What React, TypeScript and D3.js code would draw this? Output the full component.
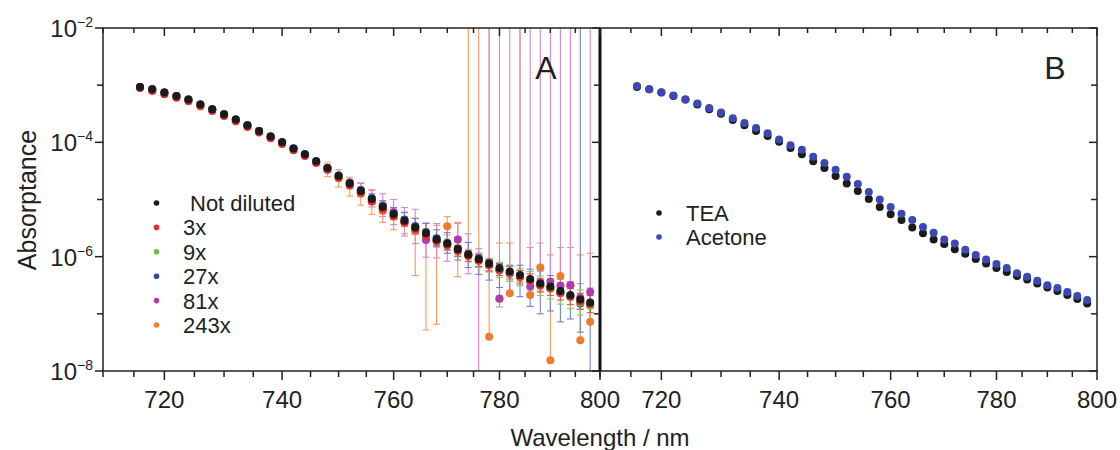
import React from 'react';
import * as d3 from 'd3';

// Wavelength (nm) of each measured point
const wavelengths = [716, 718, 720, 722, 724, 726, 728, 730, 732, 734, 736, 738, 740, 742, 744, 746, 748, 750, 752, 754, 756, 758, 760, 762, 764, 766, 768, 770, 772, 774, 776, 778, 780, 782, 784, 786, 788, 790, 792, 794, 796, 798];

// Panel A: log10(absorptance) for each dilution
const notDilutedLog = [-3.03, -3.07, -3.13, -3.19, -3.25, -3.34, -3.42, -3.51, -3.60, -3.70, -3.80, -3.90, -4.00, -4.11, -4.21, -4.33, -4.45, -4.59, -4.72, -4.85, -4.99, -5.13, -5.26, -5.37, -5.49, -5.59, -5.70, -5.77, -5.87, -5.96, -6.04, -6.12, -6.20, -6.26, -6.32, -6.39, -6.47, -6.52, -6.60, -6.67, -6.75, -6.80];
const dil3Log = [-3.05, -3.10, -3.16, -3.22, -3.28, -3.37, -3.45, -3.54, -3.63, -3.73, -3.83, -3.93, -4.03, -4.14, -4.24, -4.36, -4.48, -4.62, -4.75, -4.88, -5.03, -5.17, -5.29, -5.40, -5.52, -5.63, -5.73, -5.80, -5.90, -5.99, -6.07, -6.15, -6.23, -6.28, -6.35, -6.42, -6.50, -6.55, -6.63, -6.70, -6.78, -6.83];
const dil9Log = [-3.04, -3.08, -3.14, -3.20, -3.26, -3.35, -3.43, -3.52, -3.61, -3.71, -3.81, -3.91, -4.01, -4.12, -4.22, -4.34, -4.46, -4.60, -4.73, -4.87, -5.01, -5.15, -5.28, -5.38, -5.50, -5.60, -5.72, -5.79, -5.90, -5.98, -6.07, -6.15, -6.23, -6.29, -6.36, -6.42, -6.51, -6.56, -6.64, -6.71, -6.80, -6.86];
const dil27Log = [-3.03, -3.07, -3.13, -3.19, -3.25, -3.34, -3.42, -3.51, -3.60, -3.70, -3.80, -3.90, -4.00, -4.11, -4.21, -4.33, -4.45, -4.58, -4.71, -4.84, -4.98, -5.12, -5.24, -5.35, -5.47, -5.57, -5.68, -5.76, -5.86, -5.97, -6.06, -6.15, -6.24, -6.30, -6.35, -6.42, -6.50, -6.55, -6.64, -6.69, -6.82, -6.85];
const dil81Log = [-3.03, -3.07, -3.13, -3.19, -3.25, -3.34, -3.42, -3.51, -3.60, -3.70, -3.80, -3.90, -4.00, -4.11, -4.21, -4.33, -4.45, -4.58, -4.70, -4.83, -4.98, -5.10, -5.22, -5.39, -5.47, -5.71, -5.72, -5.78, -5.70, -5.95, -6.02, -6.10, -6.73, -6.28, -6.34, -6.52, -6.45, -6.44, -6.51, -6.50, -6.72, -6.62];
const dil243Log = [-3.04, -3.08, -3.14, -3.20, -3.26, -3.35, -3.43, -3.52, -3.61, -3.71, -3.81, -3.91, -4.01, -4.12, -4.22, -4.35, -4.48, -4.63, -4.76, -4.90, -5.04, -5.20, -5.30, -5.42, -5.55, -5.62, -5.72, -5.47, -5.85, -5.96, -6.05, -7.40, -6.74, -6.64, -6.33, -6.67, -6.19, -7.81, -6.34, -6.50, -7.46, -7.14];

// Error bars: extent above / below the point, in decades (null = none drawn, 9 = off the chart)
const N = null;
const dil3Up = [N, N, N, N, N, N, N, N, N, N, N, N, N, N, N, N, N, N, N, N, 0.05, 0.05, 0.06, 0.06, 0.07, 0.07, 0.08, 0.08, 0.09, 0.09, 0.1, 0.1, 0.1, 0.11, 0.11, 0.12, 0.12, 0.13, 0.13, 0.14, 0.14, 0.15];
const dil3Down = [N, N, N, N, N, N, N, N, N, N, N, N, N, N, N, N, N, N, N, N, 0.05, 0.05, 0.06, 0.06, 0.07, 0.07, 0.08, 0.08, 0.09, 0.09, 0.1, 0.1, 0.1, 0.11, 0.11, 0.12, 0.12, 0.13, 0.13, 0.14, 0.14, 0.15];
const dil9Up = [N, N, N, N, N, N, N, N, N, N, N, N, N, N, N, N, N, N, N, N, N, N, 0.06, 0.07, 0.08, 0.08, 0.09, 0.1, 0.1, 0.11, 0.12, 0.12, 0.13, 0.14, 0.15, 0.16, 0.17, 0.18, 0.19, 0.2, 0.22, 0.24];
const dil9Down = [N, N, N, N, N, N, N, N, N, N, N, N, N, N, N, N, N, N, N, N, N, N, 0.06, 0.07, 0.08, 0.08, 0.09, 0.1, 0.1, 0.11, 0.12, 0.12, 0.13, 0.14, 0.15, 0.16, 0.17, 0.18, 0.19, 0.2, 0.22, 0.3];
const dil27Up = [N, N, N, N, N, N, N, N, N, N, N, N, N, N, N, N, N, N, N, N, 0.08, 0.1, 0.1, 0.12, 0.14, 0.15, 0.15, 0.18, 0.2, 0.22, 0.12, 0.06, 0.12, 0.15, 0.2, 0.2, 0.25, 0.22, 0.25, 0.25, 9, 0.3];
const dil27Down = [N, N, N, N, N, N, N, N, N, N, N, N, N, N, N, N, N, N, N, N, 0.08, 0.1, 0.1, 0.12, 0.14, 0.15, 0.15, 0.18, 0.2, 0.22, 0.25, 0.26, 0.3, 0.35, 0.35, 0.45, 0.5, 0.4, 0.5, 0.4, 0.5, 9];
const dil81Up = [N, N, N, N, N, N, N, N, N, N, N, N, N, N, N, N, N, N, N, 0.12, 0.15, 0.2, 0.22, 0.25, 0.3, 0.3, 0.3, 0.3, 0.3, 0.35, 0.16, 9, 9, 9, 9, 9, 9, 9, 9, 9, 0.25, 9];
const dil81Down = [N, N, N, N, N, N, N, N, N, N, N, N, N, N, N, N, N, N, N, 0.12, 0.15, 0.2, 0.22, 0.25, 0.3, 0.3, 0.3, 0.3, 0.3, 0.35, 9, 0.15, 0.15, 0.15, 0.15, 0.15, 0.15, 0.15, 0.15, 0.15, 0.2, 0.15];
const dil243Up = [N, N, N, N, N, N, N, N, N, N, N, N, N, N, N, N, 0.12, 0.15, 0.15, 0.18, 0.2, 0.1, 0.12, 0.2, 0.22, 0.2, 0.27, 0.17, 0.43, 9, 9, 9, 0.98, 0.88, 9, 0.83, 0.43, 1.84, 0.5, 0.66, 1.49, 1.2];
const dil243Down = [N, N, N, N, N, N, N, N, N, N, N, N, N, N, N, N, 0.12, 0.15, 0.18, 0.2, 0.22, 0.2, 0.23, 0.18, 0.78, 1.66, 1.46, 0.15, 0.5, 0.05, 0.05, N, N, N, 0.1, N, 0.2, N, 0.2, 0.2, N, N];

// Panel B: log10(absorptance)
const teaLog = [-3.03, -3.07, -3.13, -3.19, -3.25, -3.34, -3.42, -3.50, -3.61, -3.70, -3.80, -3.89, -3.99, -4.10, -4.21, -4.33, -4.45, -4.59, -4.72, -4.85, -4.99, -5.13, -5.26, -5.36, -5.49, -5.59, -5.70, -5.78, -5.87, -5.95, -6.04, -6.12, -6.20, -6.27, -6.34, -6.40, -6.47, -6.54, -6.60, -6.67, -6.74, -6.82];
const acetoneLog = [-3.015, -3.07, -3.125, -3.18, -3.25, -3.32, -3.40, -3.48, -3.58, -3.66, -3.75, -3.84, -3.95, -4.05, -4.13, -4.25, -4.36, -4.48, -4.60, -4.73, -4.87, -5.00, -5.13, -5.25, -5.36, -5.48, -5.58, -5.70, -5.77, -5.88, -5.97, -6.05, -6.13, -6.20, -6.29, -6.35, -6.42, -6.50, -6.55, -6.62, -6.69, -6.76];

const xTickLabels = [720, 740, 760, 780, 800];
const yTickExponents = [-2, -4, -6, -8];

const FONT = '"Liberation Sans", Arial, Helvetica, sans-serif';
const INK = '#222';

type Series = { name: string; color: string; bar: string; v: number[]; up: (number | null)[]; dn: (number | null)[] };

const seriesA: Series[] = [
  { name: 'Not diluted', color: '#1b1b1b', bar: '#1b1b1b', v: notDilutedLog, up: [], dn: [] },
  { name: '3x', color: '#ec2b2f', bar: '#ec4a4e', v: dil3Log, up: dil3Up, dn: dil3Down },
  { name: '9x', color: '#62c23e', bar: '#7fd060', v: dil9Log, up: dil9Up, dn: dil9Down },
  { name: '27x', color: '#3547a8', bar: '#6f7fd0', v: dil27Log, up: dil27Up, dn: dil27Down },
  { name: '81x', color: '#b03aae', bar: '#d487d2', v: dil81Log, up: dil81Up, dn: dil81Down },
  { name: '243x', color: '#f07a2e', bar: '#f59a5c', v: dil243Log, up: dil243Up, dn: dil243Down },
];

export default function App() {
  const top = 28, bottom = 371;
  const xA = d3.scaleLinear().domain([1 / 710, 1 / 800]).range([103, 600]);
  const xB = d3.scaleLinear().domain([1 / 710, 1 / 800]).range([600, 1097]);
  const y = d3.scaleLog().domain([1e-8, 1e-2]).range([bottom, top]);
  const ly = (v: number) => y(Math.pow(10, v));

  const minorX = d3.range(710, 801, 5);
  const decades = d3.range(-8, -1, 1);
  const R = 4;

  const drawXTicks = (sx: d3.ScaleLinear<number, number>, key: string) =>
    minorX.map((w) => {
      const major = w % 20 === 0;
      const px = sx(1 / w);
      return (
        <g key={key + w}>
          <line x1={px} x2={px} y1={bottom} y2={bottom + (major ? 9 : 6)} stroke={INK} strokeWidth={1.5} />
          <line x1={px} x2={px} y1={top} y2={top + (major ? 8 : 5)} stroke={INK} strokeWidth={1.5} />
        </g>
      );
    });

  const drawYTicks = (x0: number, key: string) =>
    decades.map((e) => {
      const major = e % 2 === 0;
      const py = ly(e);
      return <line key={key + e} x1={x0 - (major ? 8 : 6)} x2={x0} y1={py} y2={py} stroke={INK} strokeWidth={1.5} />;
    });

  const bars = (s: Series) =>
    s.v.map((v, i) => {
      const up = s.up[i];
      const dn = s.dn[i];
      if (up == null && dn == null) return null;
      const px = xA(1 / wavelengths[i]);
      const yHi = up == null ? ly(v) : ly(v + up);
      const yLo = dn == null ? ly(v) : ly(v - dn);
      const caps: number[] = [];
      if (up != null && yHi >= top && yHi <= bottom) caps.push(yHi);
      if (dn != null && yLo >= top && yLo <= bottom) caps.push(yLo);
      return (
        <g key={s.name + i} stroke={s.bar} strokeWidth={1.1}>
          <line x1={px} x2={px} y1={yHi} y2={yLo} />
          {caps.map((c, k) => (
            <line key={k} x1={px - 3.5} x2={px + 3.5} y1={c} y2={c} />
          ))}
        </g>
      );
    });

  const drawOrder = [5, 4, 3, 2, 1, 0];

  return (
    <svg width={1120} height={450} style={{ position: 'absolute', left: 0, top: 0, background: '#fff' }} fontFamily={FONT}>
      <defs>
        <clipPath id="clipA">
          <rect x={103} y={top} width={497} height={bottom - top} />
        </clipPath>
        <clipPath id="clipB">
          <rect x={600} y={top} width={497} height={bottom - top} />
        </clipPath>
      </defs>

      {/* Panel A data */}
      <g clipPath="url(#clipA)">
        {drawOrder.map((k) => <g key={'b' + k}>{bars(seriesA[k])}</g>)}
        {drawOrder.map((k) => (
          <g key={'p' + k} fill={seriesA[k].color}>
            {seriesA[k].v.map((v, i) => (
              <circle key={i} cx={xA(1 / wavelengths[i])} cy={ly(v)} r={R} />
            ))}
          </g>
        ))}
      </g>

      {/* Panel B data */}
      <g clipPath="url(#clipB)">
        <g fill="#1b1b1b">
          {teaLog.map((v, i) => <circle key={i} cx={xB(1 / wavelengths[i])} cy={ly(v)} r={R} />)}
        </g>
        <g fill="#3a4ab2">
          {acetoneLog.map((v, i) => <circle key={i} cx={xB(1 / wavelengths[i])} cy={ly(v)} r={R} />)}
        </g>
      </g>

      {/* Frames */}
      <rect x={103} y={top} width={994} height={bottom - top} fill="none" stroke={INK} strokeWidth={1.5} />
      <line x1={600} x2={600} y1={top} y2={bottom} stroke="#111" strokeWidth={3} />

      {drawXTicks(xA, 'a')}
      {drawXTicks(xB, 'b')}
      {drawYTicks(103, 'l')}
      {drawYTicks(600, 'm')}
      {drawYTicks(1097, 'r')}

      {/* X tick labels */}
      {xTickLabels.map((w) => (
        <text key={'la' + w} x={xA(1 / w)} y={408} textAnchor="middle" fontSize={24} fill={INK}>{w}</text>
      ))}
      {xTickLabels.map((w) => (
        <text key={'lb' + w} x={xB(1 / w)} y={408} textAnchor="middle" fontSize={24} fill={INK}>{w}</text>
      ))}

      {/* Y tick labels */}
      {yTickExponents.map((e) => (
        <text key={'y' + e} x={93} y={ly(e) + 9} textAnchor="end" fontSize={24} fill={INK}>
          10<tspan dy={-10} fontSize={14}>{'\u2212' + Math.abs(e)}</tspan>
        </text>
      ))}

      {/* Axis titles */}
      <text transform="translate(36,200) rotate(-90)" textAnchor="middle" fontSize={25} fill={INK}>Absorptance</text>
      <text x={600} y={446} textAnchor="middle" fontSize={24} fill={INK}>Wavelength / nm</text>

      {/* Panel letters */}
      <text x={546} y={79} textAnchor="middle" fontSize={32} fill={INK}>A</text>
      <text x={1055} y={79} textAnchor="middle" fontSize={32} fill={INK}>B</text>

      {/* Legend A */}
      {seriesA.map((s, i) => (
        <g key={'lg' + i}>
          <circle cx={156.5} cy={203 + i * 24.4} r={2.8} fill={s.color} />
          <text x={i === 0 ? 190 : 183} y={203 + i * 24.4 + 8} fontSize={22} fill={INK}>{s.name}</text>
        </g>
      ))}

      {/* Legend B */}
      <circle cx={659} cy={213} r={2.8} fill="#1b1b1b" />
      <text x={686} y={221} fontSize={22} fill={INK}>TEA</text>
      <circle cx={659} cy={237} r={2.8} fill="#3a4ab2" />
      <text x={686} y={245} fontSize={22} fill={INK}>Acetone</text>
    </svg>
  );
}
